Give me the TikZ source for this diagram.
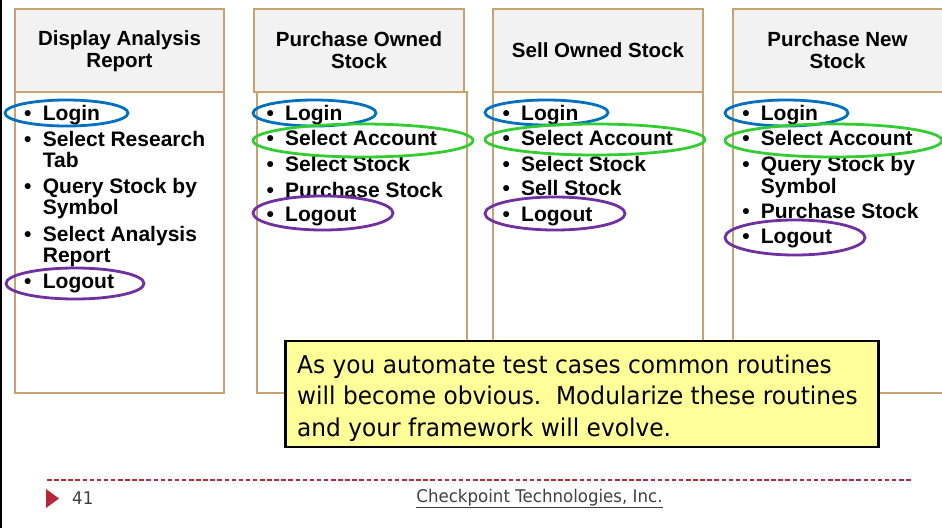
\documentclass[tikz,border=0pt]{standalone}
\usepackage{fontspec}
\setmainfont{Liberation Sans}
\newfontfamily\tahoma[FakeStretch=0.95]{DejaVu Sans}
\usetikzlibrary{shapes.geometric}
\definecolor{boxtan}{RGB}{198,163,112}
\definecolor{hdrgray}{RGB}{242,242,242}
\definecolor{ovblue}{RGB}{0,112,192}
\definecolor{ovgreen}{RGB}{51,204,51}
\definecolor{ovpurple}{RGB}{112,48,160}
\definecolor{notefill}{RGB}{255,255,153}
\definecolor{footred}{RGB}{180,40,60}
\definecolor{footgray}{RGB}{64,64,64}
\newcommand\leadrule{\rule{0pt}{18pt}}
\newcommand\bul{\llap{\textbullet\hspace{11.3pt}}}
\begin{document}
\begin{tikzpicture}[x=1pt,y=-1pt,
  bodybox/.style={draw=boxtan,line width=1.5pt,fill=white,minimum width=210pt,minimum height=301pt,inner sep=0pt},
  hdrbox/.style={draw=boxtan,line width=1.5pt,fill=hdrgray,minimum width=210pt,minimum height=83pt,inner sep=0pt},
  hdrtext/.style={inner sep=0pt,align=center,font=\bfseries\fontsize{20.5}{21.5}\selectfont},
  item/.style={anchor=north west,inner sep=0pt,align=left,font=\bfseries\fontsize{21}{21.5}\selectfont},
  ov/.style={ellipse,draw,line width=2.8pt,inner sep=0pt},
  login/.style={ov,draw=ovblue},
  acct/.style={ov,draw=ovgreen},
  logout/.style={ov,draw=ovpurple},
  notebox/.style={draw=black,line width=2.5pt,fill=notefill,minimum width=593pt,minimum height=106pt,inner sep=0pt},
  notetext/.style={anchor=north west,inner sep=0pt,align=left,font=\tahoma\fontsize{24.5}{31.5}\selectfont},
  foottext/.style={inner sep=0pt,text=footgray,font=\tahoma\fontsize{17.5}{20}\selectfont}
]
\path[use as bounding box] (0,0) rectangle (942,528);
% slide edge
\coordinate (edgetop) at (1,0);
\coordinate (edgebot) at (1,528);
\draw[line width=2pt,black] (edgetop) -- (edgebot);

% column boxes
\node[bodybox,minimum width=209pt] (b1) at (119.5,242.5) {};
\node[hdrbox,minimum width=209pt] (h1) at (119.5,50.5) {};
\node[bodybox] (b2) at (362,242.5) {};
\node[hdrbox] (h2) at (359,50.5) {};
\node[bodybox] (b3) at (598,242.5) {};
\node[hdrbox] (h3) at (598,50.5) {};
\node[bodybox] (b4) at (838,242.5) {};
\node[hdrbox] (h4) at (838,50.5) {};

% header texts
\node[hdrtext,anchor=north] (t1) at (119.5,27.7) {\leadrule Display Analysis\\Report};
\node[hdrtext,anchor=north] (t2) at (359,28.7) {\leadrule Purchase Owned\\Stock};
\node[hdrtext,anchor=base] (t3) at (598,57.5) {Sell Owned Stock};
\node[hdrtext,anchor=north] (t4) at (837.5,28.7) {\leadrule Purchase New\\Stock};

% column 1 items
\node[item] (c1a) at (42.7,102) {\leadrule\bul Login};
\node[item] (c1b) at (42.7,128) {\leadrule\bul Select Research\\Tab};
\node[item] (c1c) at (42.7,175) {\leadrule\bul Query Stock by\\Symbol};
\node[item] (c1d) at (42.7,223) {\leadrule\bul Select Analysis\\Report};
\node[item] (c1e) at (42.7,270) {\leadrule\bul Logout};

% column 2 items
\node[item] (c2a) at (285,102) {\leadrule\bul Login};
\node[item] (c2b) at (285,127.7) {\leadrule\bul Select Account};
\node[item] (c2c) at (285,153.5) {\leadrule\bul Select Stock};
\node[item] (c2d) at (285,179) {\leadrule\bul Purchase Stock};
\node[item] (c2e) at (285,203.7) {\leadrule\bul Logout};

% column 3 items
\node[item] (c3a) at (521,102) {\leadrule\bul Login};
\node[item] (c3b) at (521,127.5) {\leadrule\bul Select Account};
\node[item] (c3c) at (521,152.8) {\leadrule\bul Select Stock};
\node[item] (c3d) at (521,177.5) {\leadrule\bul Sell Stock};
\node[item] (c3e) at (521,203.5) {\leadrule\bul Logout};

% column 4 items
\node[item] (c4a) at (760.7,102) {\leadrule\bul Login};
\node[item] (c4b) at (760.7,127.7) {\leadrule\bul Select Account};
\node[item] (c4c) at (760.7,153.7) {\leadrule\bul Query Stock by\\Symbol};
\node[item] (c4d) at (760.7,200) {\leadrule\bul Purchase Stock};
\node[item] (c4e) at (760.7,225) {\leadrule\bul Logout};

% ellipses
\node[login,minimum width=123pt,minimum height=26pt] (e1a) at (66.5,113) {};
\node[logout,minimum width=138pt,minimum height=31pt] (e1e) at (75,283.5) {};
\node[login,minimum width=123pt,minimum height=26pt] (e2a) at (314.5,113) {};
\node[acct,minimum width=220pt,minimum height=33pt] (e2b) at (363,140.5) {};
\node[logout,minimum width=140pt,minimum height=34pt] (e2e) at (323,213) {};
\node[login,minimum width=123pt,minimum height=25pt] (e3a) at (546.5,112.5) {};
\node[acct,minimum width=220pt,minimum height=31pt] (e3b) at (595,139.5) {};
\node[logout,minimum width=140pt,minimum height=33pt] (e3e) at (555,213.5) {};
\node[login,minimum width=123pt,minimum height=26pt] (e4a) at (786.5,113) {};
\node[acct,minimum width=217pt,minimum height=33pt] (e4b) at (833.5,140.5) {};
\node[logout,minimum width=140pt,minimum height=35pt] (e4e) at (795,237.5) {};

% note
\node[notebox] (note) at (582,394) {};
\node[notetext] (notet) at (297,351) {\rule{0pt}{22pt}As you automate test cases common routines\\will become obvious.~~Modularize these routines\\and your framework will evolve.};

% footer
\coordinate (dashL) at (47,480);
\coordinate (dashR) at (911,480);
\draw[footred,line width=1.3pt,dash pattern=on 4.5pt off 2.6pt] (dashL) -- (dashR);
\fill[footred] (46,489) -- (59,498.5) -- (46,508) -- cycle;
\node[foottext,anchor=base west] (pgnum) at (72,504) {41};
\node[foottext,anchor=base] (company) at (539.5,502) {\underline{Checkpoint Technologies, Inc.}};
\end{tikzpicture}
\end{document}
